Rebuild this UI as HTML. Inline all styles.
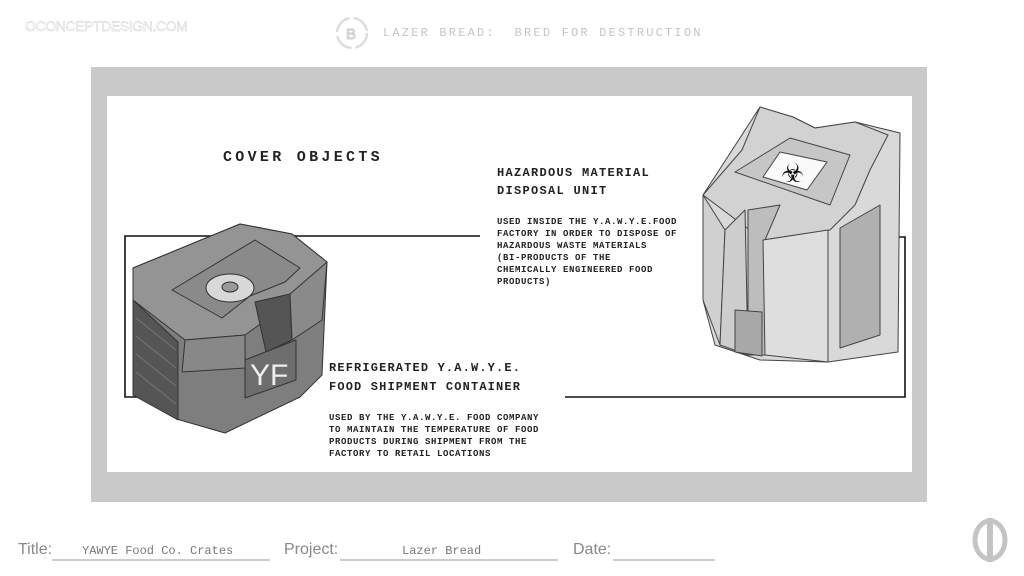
<!DOCTYPE html>
<html><head><meta charset="utf-8"><style>
body{margin:0;width:1024px;height:576px;background:#fff;position:relative;overflow:hidden;font-family:"Liberation Sans",sans-serif}
.a{position:absolute;white-space:pre}
.m{font-family:"Liberation Mono",monospace;color:#222;font-weight:bold}
</style></head><body>
<div class="a" style="left:25px;top:18px;font-size:14px;letter-spacing:-0.4px;color:transparent;-webkit-text-stroke:0.4px #c8c8c8">OCONCEPTDESIGN.COM</div>
<div class="a m" style="left:383px;top:26px;font-size:12px;letter-spacing:2.2px;color:#c4c4c4;font-weight:normal">LAZER BREAD:  BRED FOR DESTRUCTION</div>
<svg class="a" style="left:0;top:0" width="1024" height="576">
<circle cx="352" cy="33" r="15" fill="none" stroke="#ddd" stroke-width="2.5" stroke-dasharray="20 4"/>
<text x="346" y="39" font-size="15" fill="none" stroke="#ccc" font-family="Liberation Sans">B</text>
<rect x="91" y="67" width="836" height="435" fill="#c9c9c9"/>
<rect x="107" y="96" width="805" height="376" fill="#fff"/>
<g stroke="#111" stroke-width="1.6" fill="none">
<polyline points="480,236 125,236 125,397 300,397"/>
<polyline points="880,237 905,237 905,397 565,397"/>
</g>
<g stroke="#333" stroke-width="1" stroke-linejoin="round">
<polygon points="133,268 240,224 292,234 327,262 322,375 300,397 225,433 180,420 133,395" fill="#7e7e7e"/>
<polygon points="133,268 240,224 292,234 327,262 305,292 245,335 185,340 133,300" fill="#949494"/>
<polygon points="172,290 255,240 300,268 285,282 250,296 222,318" fill="#8a8a8a"/>
<ellipse cx="230" cy="288" rx="24" ry="14" fill="#d8d8d8"/>
<ellipse cx="230" cy="287" rx="8" ry="5" fill="#999"/>
<polygon points="133,300 178,342 178,420 133,395" fill="#555"/>
<g stroke="#777"><line x1="136" y1="318" x2="176" y2="350"/><line x1="136" y1="336" x2="176" y2="368"/><line x1="136" y1="354" x2="176" y2="386"/><line x1="136" y1="372" x2="176" y2="404"/></g>
<polygon points="185,340 245,335 245,368 182,372" fill="#888"/>
<polygon points="255,302 290,294 292,340 266,352" fill="#555"/>
<polygon points="290,294 327,262 322,320 292,340" fill="#8a8a8a"/>
<polygon points="245,360 296,340 296,380 245,398" fill="#6e6e6e"/>
</g>
<text x="250" y="385" font-size="30" fill="#eee" font-family="Liberation Sans">YF</text>
<g stroke="#444" stroke-width="1" stroke-linejoin="round">
<polygon points="703,195 760,107 793,117 815,128 855,122 900,133 898,352 828,362 760,360 715,345 703,300" fill="#d9d9d9"/>
<polygon points="703,195 742,150 760,107 793,117 815,128 855,122 888,135 870,170 855,205 830,230 763,240" fill="#d2d2d2"/>
<polygon points="735,172 790,138 850,155 830,205" fill="#c6c6c6"/>
<polygon points="763,177 780,152 827,162 807,190" fill="#fafafa"/>
<polygon points="703,195 725,230 720,345 703,300" fill="#d0d0d0"/>
<polygon points="725,230 745,210 748,355 720,345" fill="#cdcdcd"/>
<polygon points="748,210 780,205 765,240 765,355 748,355" fill="#bdbdbd"/>
<polygon points="763,240 828,230 828,362 765,355" fill="#dedede"/>
<polygon points="840,228 880,205 880,335 840,348" fill="#b0b0b0"/>
<polygon points="735,310 762,312 762,356 735,352" fill="#a8a8a8"/>
</g>
<text x="781" y="182" font-size="26" fill="#111" font-family="DejaVu Sans">☣</text>
<ellipse cx="990" cy="540" rx="15" ry="19" fill="none" stroke="#c4c4c4" stroke-width="5"/>
<rect x="987" y="518" width="6" height="44" fill="#c4c4c4"/>
<g stroke="#999" stroke-width="1"><line x1="52" y1="560" x2="270" y2="560"/><line x1="340" y1="560" x2="558" y2="560"/><line x1="613" y1="560" x2="715" y2="560"/></g>
</svg>
<div class="a m" style="left:223px;top:149px;font-size:15px;letter-spacing:3.3px">COVER OBJECTS</div>
<div class="a m" style="left:497px;top:164px;font-size:12px;letter-spacing:1.3px;line-height:18px">HAZARDOUS MATERIAL
DISPOSAL UNIT</div>
<div class="a m" style="left:497px;top:216px;font-size:9px;letter-spacing:0.6px;line-height:12px">USED INSIDE THE Y.A.W.Y.E.FOOD
FACTORY IN ORDER TO DISPOSE OF
HAZARDOUS WASTE MATERIALS
(BI-PRODUCTS OF THE
CHEMICALLY ENGINEERED FOOD
PRODUCTS)</div>
<div class="a m" style="left:329px;top:359px;font-size:12px;letter-spacing:1.15px;line-height:19px">REFRIGERATED Y.A.W.Y.E.
FOOD SHIPMENT CONTAINER</div>
<div class="a m" style="left:329px;top:412px;font-size:9px;letter-spacing:0.6px;line-height:12px">USED BY THE Y.A.W.Y.E. FOOD COMPANY
TO MAINTAIN THE TEMPERATURE OF FOOD
PRODUCTS DURING SHIPMENT FROM THE
FACTORY TO RETAIL LOCATIONS</div>
<div class="a" style="left:18px;top:541px;font-size:16px;color:#888">Title:</div>
<div class="a m" style="left:82px;top:544px;font-size:12px;color:#777;font-weight:normal">YAWYE Food Co. Crates</div>
<div class="a" style="left:284px;top:541px;font-size:16px;color:#888">Project:</div>
<div class="a m" style="left:402px;top:544px;font-size:12px;color:#777;font-weight:normal">Lazer Bread</div>
<div class="a" style="left:573px;top:541px;font-size:16px;color:#888">Date:</div>
</body></html>
